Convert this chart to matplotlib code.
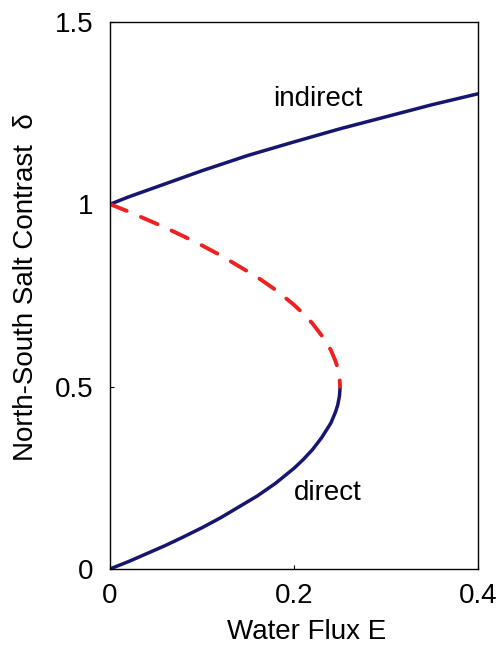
import matplotlib
matplotlib.use("Agg")
import matplotlib.pyplot as plt

plt.rcParams['font.family'] = ['Liberation Sans', 'DejaVu Sans']

# values
direct_E = [0.0, 0.02, 0.04, 0.06, 0.08, 0.10, 0.12, 0.14, 0.16, 0.18, 0.20,
            0.21, 0.22, 0.23, 0.24, 0.245, 0.2475, 0.2494, 0.25]
direct_delta = [0.0, 0.020, 0.042, 0.064, 0.088, 0.113, 0.140, 0.170, 0.200, 0.235, 0.276,
                0.300, 0.327, 0.360, 0.400, 0.430, 0.450, 0.475, 0.500]

unstable_E = [0.25, 0.2494, 0.2475, 0.245, 0.24, 0.23, 0.22, 0.21, 0.20, 0.18,
              0.16, 0.14, 0.12, 0.10, 0.08, 0.06, 0.04, 0.02, 0.0]
unstable_delta = [0.500, 0.525, 0.550, 0.570, 0.600, 0.640, 0.673, 0.700, 0.724, 0.765,
                  0.800, 0.830, 0.860, 0.887, 0.912, 0.936, 0.958, 0.980, 1.0]

indirect_E = [0.0, 0.02, 0.05, 0.10, 0.15, 0.20, 0.25, 0.30, 0.35, 0.40]
indirect_delta = [1.0, 1.020, 1.047, 1.092, 1.134, 1.171, 1.207, 1.240, 1.273, 1.303]

x_ticks = [0, 0.2, 0.4]
x_tick_labels = ["0", "0.2", "0.4"]
y_ticks = [0, 0.5, 1, 1.5]
y_tick_labels = ["0", "0.5", "1", "1.5"]

navy = "#16166e"
red = "#ee2020"

fig = plt.figure(figsize=(4.98, 6.45), dpi=100)
ax = fig.add_axes([0.221, 0.118, 0.739, 0.848])

ax.plot(direct_E, direct_delta, color=navy, linewidth=2.5, solid_capstyle="butt")
ax.plot(indirect_E, indirect_delta, color=navy, linewidth=2.5, solid_capstyle="butt")
# dashed branch drawn from (0, 1) towards the nose so the first dash sits on the axis
dashed, = ax.plot(unstable_E[::-1], unstable_delta[::-1], color=red, linewidth=2.8,
                  dash_capstyle="round")
dashed.set_dashes([4.6, 4.0])

ax.text(0.226, 1.29, "indirect", fontsize=20, ha="center", va="center")
ax.text(0.237, 0.208, "direct", fontsize=20, ha="center", va="center")

ax.set_xlim(0, 0.4)
ax.set_ylim(0, 1.5)
ax.set_xticks(x_ticks)
ax.set_xticklabels(x_tick_labels)
ax.set_yticks(y_ticks)
ax.set_yticklabels(y_tick_labels)
ax.tick_params(direction="in", length=3, width=0.8, labelsize=20)
ax.tick_params(axis="x", pad=10)
ax.tick_params(axis="y", pad=12)

for s in ax.spines.values():
    s.set_linewidth(1.0)

ax.set_xlabel("Water Flux E", fontsize=20)
ax.xaxis.set_label_coords(0.535, -0.091, transform=ax.transAxes)
ax.xaxis.label.set_va("top")
ax.set_ylabel("North-South Salt Contrast  \u03b4", fontsize=20)
ax.yaxis.set_label_coords(-0.193, 0.515, transform=ax.transAxes)

fig.savefig("out.png", dpi=100)
